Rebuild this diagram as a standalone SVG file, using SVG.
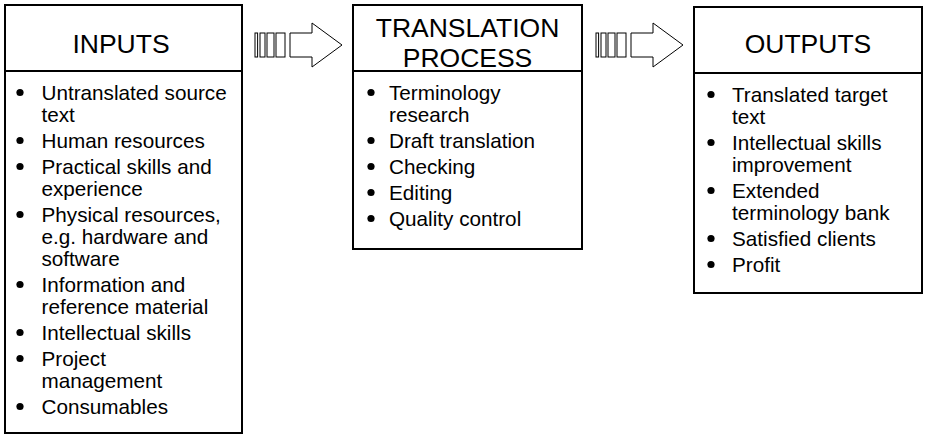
<svg xmlns="http://www.w3.org/2000/svg" width="925" height="436" viewBox="0 0 925 436">
<style>
.box{fill:#fff;stroke:#000;stroke-width:2}
.div{stroke:#000;stroke-width:2}
.title{font-family:"Liberation Sans",Arial,sans-serif;font-size:26.5px;fill:#000;text-anchor:middle}
.item{font-family:"Liberation Sans",Arial,sans-serif;font-size:20.7px;fill:#000}
.arr{fill:#fff;stroke:#000;stroke-width:1}
</style>
<defs>
<circle id="b" r="3.6" fill="#000"/>
<g id="arrow">
<rect class="arr" x="0" y="-12" width="2.6" height="24"/>
<rect class="arr" x="5" y="-12" width="5" height="24"/>
<rect class="arr" x="12" y="-12" width="7" height="24"/>
<rect class="arr" x="21" y="-12" width="9" height="24"/>
<path class="arr" d="M35,-12 H57 V-22 L87,0 L57,22 V12 H35 Z"/>
</g>
</defs>
<g id="connectors">
<use href="#arrow" x="255" y="45"/>
<use href="#arrow" x="596" y="45"/>
</g>
<g id="inputs">
<rect class="box" x="5" y="5" width="237" height="428"/>
<line class="div" x1="5" y1="71" x2="242" y2="71"/>
<text class="title" x="121" y="53">INPUTS</text>
<use href="#b" x="20" y="92.5"/>
<use href="#b" x="20" y="140.5"/>
<use href="#b" x="20" y="166.5"/>
<use href="#b" x="20" y="214.5"/>
<use href="#b" x="20" y="284.5"/>
<use href="#b" x="20" y="332.5"/>
<use href="#b" x="20" y="358.5"/>
<use href="#b" x="20" y="406.5"/>
<text class="item" x="41.5" y="99.5">Untranslated source</text>
<text class="item" x="41.5" y="121.5">text</text>
<text class="item" x="41.5" y="147.5">Human resources</text>
<text class="item" x="41.5" y="173.5">Practical skills and</text>
<text class="item" x="41.5" y="195.5">experience</text>
<text class="item" x="41.5" y="221.5">Physical resources,</text>
<text class="item" x="41.5" y="243.5">e.g. hardware and</text>
<text class="item" x="41.5" y="265.5">software</text>
<text class="item" x="41.5" y="291.5">Information and</text>
<text class="item" x="41.5" y="313.5">reference material</text>
<text class="item" x="41.5" y="339.5">Intellectual skills</text>
<text class="item" x="41.5" y="365.5">Project</text>
<text class="item" x="41.5" y="387.5">management</text>
<text class="item" x="41.5" y="413.5">Consumables</text>
</g>
<g id="process">
<rect class="box" x="353" y="5" width="229" height="244"/>
<line class="div" x1="353" y1="71" x2="582" y2="71"/>
<text class="title" x="467.5" y="37">TRANSLATION</text>
<text class="title" x="467.5" y="66.5">PROCESS</text>
<use href="#b" x="371" y="92.5"/>
<use href="#b" x="371" y="140.5"/>
<use href="#b" x="371" y="166.5"/>
<use href="#b" x="371" y="192.5"/>
<use href="#b" x="371" y="218.5"/>
<text class="item" x="389" y="99.5">Terminology</text>
<text class="item" x="389" y="121.5">research</text>
<text class="item" x="389" y="147.5">Draft translation</text>
<text class="item" x="389" y="173.5">Checking</text>
<text class="item" x="389" y="199.5">Editing</text>
<text class="item" x="389" y="225.5">Quality control</text>
</g>
<g id="outputs">
<rect class="box" x="694" y="7" width="228" height="286"/>
<line class="div" x1="694" y1="73" x2="922" y2="73"/>
<text class="title" x="808" y="53">OUTPUTS</text>
<use href="#b" x="711" y="94.5"/>
<use href="#b" x="711" y="142.5"/>
<use href="#b" x="711" y="190.5"/>
<use href="#b" x="711" y="238.5"/>
<use href="#b" x="711" y="264.5"/>
<text class="item" x="732" y="101.5">Translated target</text>
<text class="item" x="732" y="123.5">text</text>
<text class="item" x="732" y="149.5">Intellectual skills</text>
<text class="item" x="732" y="171.5">improvement</text>
<text class="item" x="732" y="197.5">Extended</text>
<text class="item" x="732" y="219.5">terminology bank</text>
<text class="item" x="732" y="245.5">Satisfied clients</text>
<text class="item" x="732" y="271.5">Profit</text>
</g>
</svg>
